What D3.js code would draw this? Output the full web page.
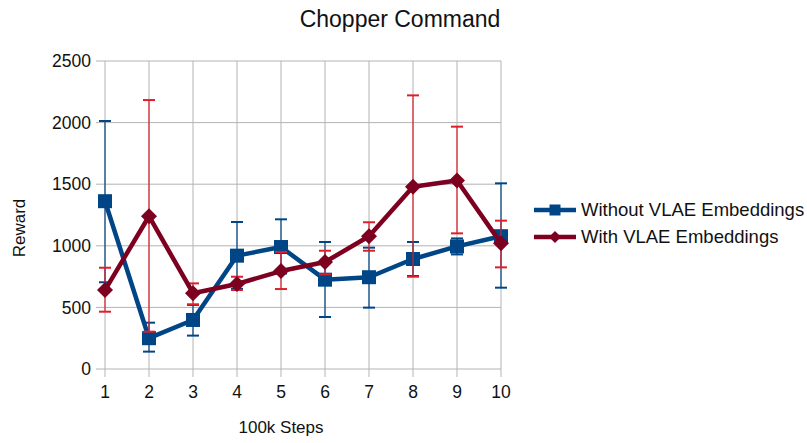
<!DOCTYPE html>
<html><head><meta charset="utf-8">
<script src="https://cdn.jsdelivr.net/npm/d3@7"></script>
<style>body{margin:0;background:#fff}svg{display:block;font-family:"Liberation Sans",Arial,sans-serif}</style>
</head><body><div id="chart"></div>
<script>
const steps = [1,2,3,4,5,6,7,8,9,10];
const withoutVals = [1362,250,398,920,990,725,745,893,995,1078];
const withoutHi   = [2013,376,520,1193,1215,1031,985,1031,1060,1507];
const withoutLo   = [704,141,271,650,775,422,498,755,930,660];
const withVals = [641,1240,615,690,795,868,1078,1480,1530,1020];
const withHi   = [822,2183,695,749,950,960,1191,2221,1967,1204];
const withLo   = [465,303,525,641,649,768,960,749,1101,825];
const yTicks = [0,500,1000,1500,2000,2500];
const seriesNames = ["Without VLAE Embeddings","With VLAE Embeddings"];

const W=807,H=443;
const svg=d3.select("#chart").append("svg").attr("width",W).attr("height",H);
const x=d3.scaleLinear().domain([1,10]).range([105,501]);
const y=d3.scaleLinear().domain([0,2500]).range([369,61]);

// grid
svg.append("g").selectAll("line").data(yTicks).join("line")
  .attr("x1",96).attr("x2",501).attr("y1",d=>y(d)).attr("y2",d=>y(d))
  .attr("stroke","#b3b3b3").attr("stroke-width",1);
svg.append("g").selectAll("line").data(steps).join("line")
  .attr("x1",d=>x(d)).attr("x2",d=>x(d)).attr("y1",61).attr("y2",377)
  .attr("stroke","#b3b3b3").attr("stroke-width",1);

// tick labels
svg.append("g").selectAll("text").data(yTicks).join("text")
  .attr("x",91).attr("y",d=>y(d)).attr("dy","0.35em").attr("text-anchor","end")
  .attr("font-size",17.5).attr("fill","#111").text(d=>d);
svg.append("g").selectAll("text").data(steps).join("text")
  .attr("x",d=>x(d)).attr("y",398).attr("text-anchor","middle")
  .attr("font-size",17.5).attr("fill","#111").text(d=>d);

// titles
svg.append("text").attr("x",400).attr("y",27).attr("text-anchor","middle").attr("font-size",23).attr("fill","#111").text("Chopper Command");
svg.append("text").attr("x",281).attr("y",433).attr("text-anchor","middle").attr("font-size",17).attr("fill","#111").text("100k Steps");
svg.append("text").attr("transform","translate(25,228) rotate(-90)").attr("text-anchor","middle").attr("font-size",17).attr("fill","#111").text("Reward");

function series(vals,hi,lo,lineColor,errColor,shape){
  const g=svg.append("g");
  const eb=g.append("g").attr("stroke",errColor).attr("stroke-width",1.2);
  steps.forEach((s,i)=>{
    eb.append("line").attr("x1",x(s)).attr("x2",x(s)).attr("y1",y(hi[i])).attr("y2",y(lo[i]));
    eb.append("line").attr("x1",x(s)-6).attr("x2",x(s)+6).attr("y1",y(hi[i])).attr("y2",y(hi[i])).attr("stroke-width",2);
    eb.append("line").attr("x1",x(s)-6).attr("x2",x(s)+6).attr("y1",y(lo[i])).attr("y2",y(lo[i])).attr("stroke-width",2);
  });
  g.append("path").datum(vals).attr("fill","none").attr("stroke",lineColor).attr("stroke-width",4.5)
    .attr("stroke-linejoin","round")
    .attr("d",d3.line().x((d,i)=>x(steps[i])).y(d=>y(d)));
  g.selectAll(".m").data(vals).join("path")
    .attr("transform",(d,i)=>`translate(${x(steps[i])},${y(d)})`)
    .attr("d",shape==="square"?"M-7,-7H7V7H-7Z":"M0,-8L8,0L0,8L-8,0Z")
    .attr("fill",lineColor);
}
series(withoutVals,withoutHi,withoutLo,"#004586","#004586","square");
series(withVals,withHi,withLo,"#7e0021","#dd1f2b","diamond");

// legend
const leg=[{c:"#004586",s:"square",y:210},{c:"#7e0021",s:"diamond",y:237}];
leg.forEach((l,i)=>{
  svg.append("line").attr("x1",534).attr("x2",576).attr("y1",l.y).attr("y2",l.y).attr("stroke",l.c).attr("stroke-width",4.5);
  svg.append("path").attr("transform",`translate(555,${l.y})`)
    .attr("d",l.s==="square"?"M-5.5,-5.5H5.5V5.5H-5.5Z":"M0,-6L6,0L0,6L-6,0Z").attr("fill",l.c);
  svg.append("text").attr("x",581).attr("y",l.y).attr("dy","0.35em").attr("font-size",18.5).attr("fill","#111").text(seriesNames[i]);
});
</script></body></html>
